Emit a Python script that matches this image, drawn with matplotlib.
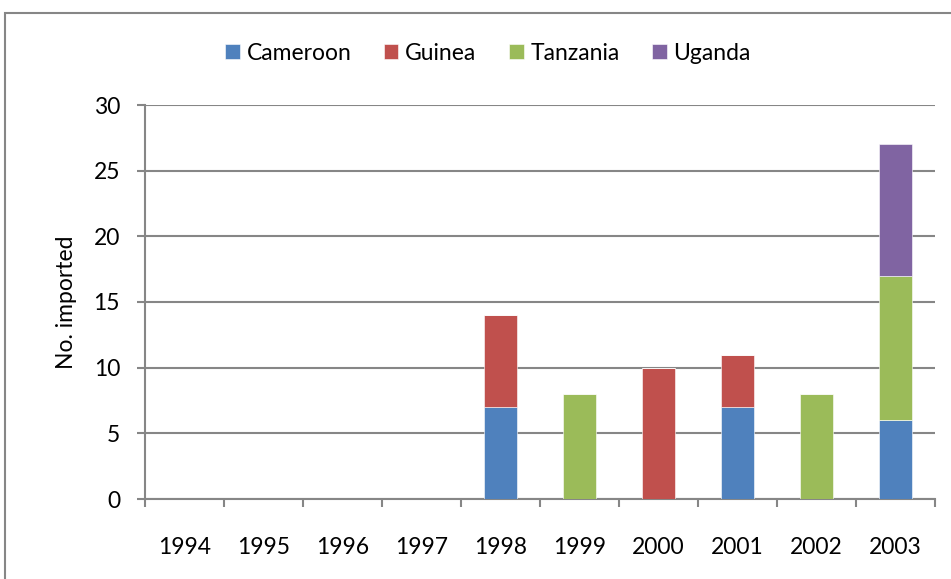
import matplotlib
matplotlib.use("Agg")
import matplotlib.pyplot as plt
import numpy as np
from matplotlib.patches import Rectangle

years = ["1994", "1995", "1996", "1997", "1998", "1999", "2000", "2001", "2002", "2003"]
cameroon = [0, 0, 0, 0, 7, 0, 0, 7, 0, 6]
guinea = [0, 0, 0, 0, 7, 0, 10, 4, 0, 0]
tanzania = [0, 0, 0, 0, 0, 8, 0, 0, 8, 11]
uganda = [0, 0, 0, 0, 0, 0, 0, 0, 0, 10]

series = [("Cameroon", cameroon, "#4F81BD"),
          ("Guinea", guinea, "#C0504D"),
          ("Tanzania", tanzania, "#9BBB59"),
          ("Uganda", uganda, "#8064A2")]

plt.rcParams['font.family'] = ['Lato', 'DejaVu Sans']
FS = 16.5

fig = plt.figure(figsize=(9.51, 5.79), dpi=100)
ax = fig.add_axes([145/951, 1 - 499/579, (935-145)/951, (499-105)/579])

x = np.arange(len(years))
bottom = np.zeros(len(years))
for name, vals, col in series:
    v = np.array(vals, dtype=float)
    ax.bar(x, v, width=0.41, bottom=bottom, color=col, label=name,
           edgecolor='white', linewidth=0.4, zorder=3)
    bottom += v

ax.set_xlim(-0.5, len(years) - 0.5)
ax.set_ylim(0, 30)
ax.set_yticks(np.arange(0, 31, 5))
ax.set_xticks(x)
ax.set_xticklabels(years)
ax.set_xticks(np.arange(-0.5, len(years), 1), minor=True)
ax.tick_params(axis='x', which='major', length=0, pad=27, labelsize=FS)
ax.tick_params(axis='x', which='minor', length=6, width=1.5, color='#868686', direction='out')
ax.tick_params(axis='y', length=6, width=1.5, color='#868686', direction='out', pad=12, labelsize=FS)

ax.yaxis.grid(True, color='#868686', linewidth=1.5, zorder=0)
ax.set_axisbelow(True)
for s in ['top', 'right']:
    ax.spines[s].set_visible(False)
for s in ['left', 'bottom']:
    ax.spines[s].set_color('#868686')
    ax.spines[s].set_linewidth(1.5)

ax.set_ylabel("No. imported", fontsize=FS, labelpad=12)

leg = fig.legend(loc='center', bbox_to_anchor=(0.513, 1 - 53/579), ncol=4, frameon=False,
                 fontsize=FS, handlelength=0.65, handleheight=0.65, handletextpad=0.3,
                 columnspacing=1.4)

fig.patches.append(Rectangle((5/951, -0.05), 1.0, 1 - 13/579 + 0.05,
                             transform=fig.transFigure, fill=False,
                             edgecolor='#868686', linewidth=1.5))

fig.savefig("out.png", dpi=100)
